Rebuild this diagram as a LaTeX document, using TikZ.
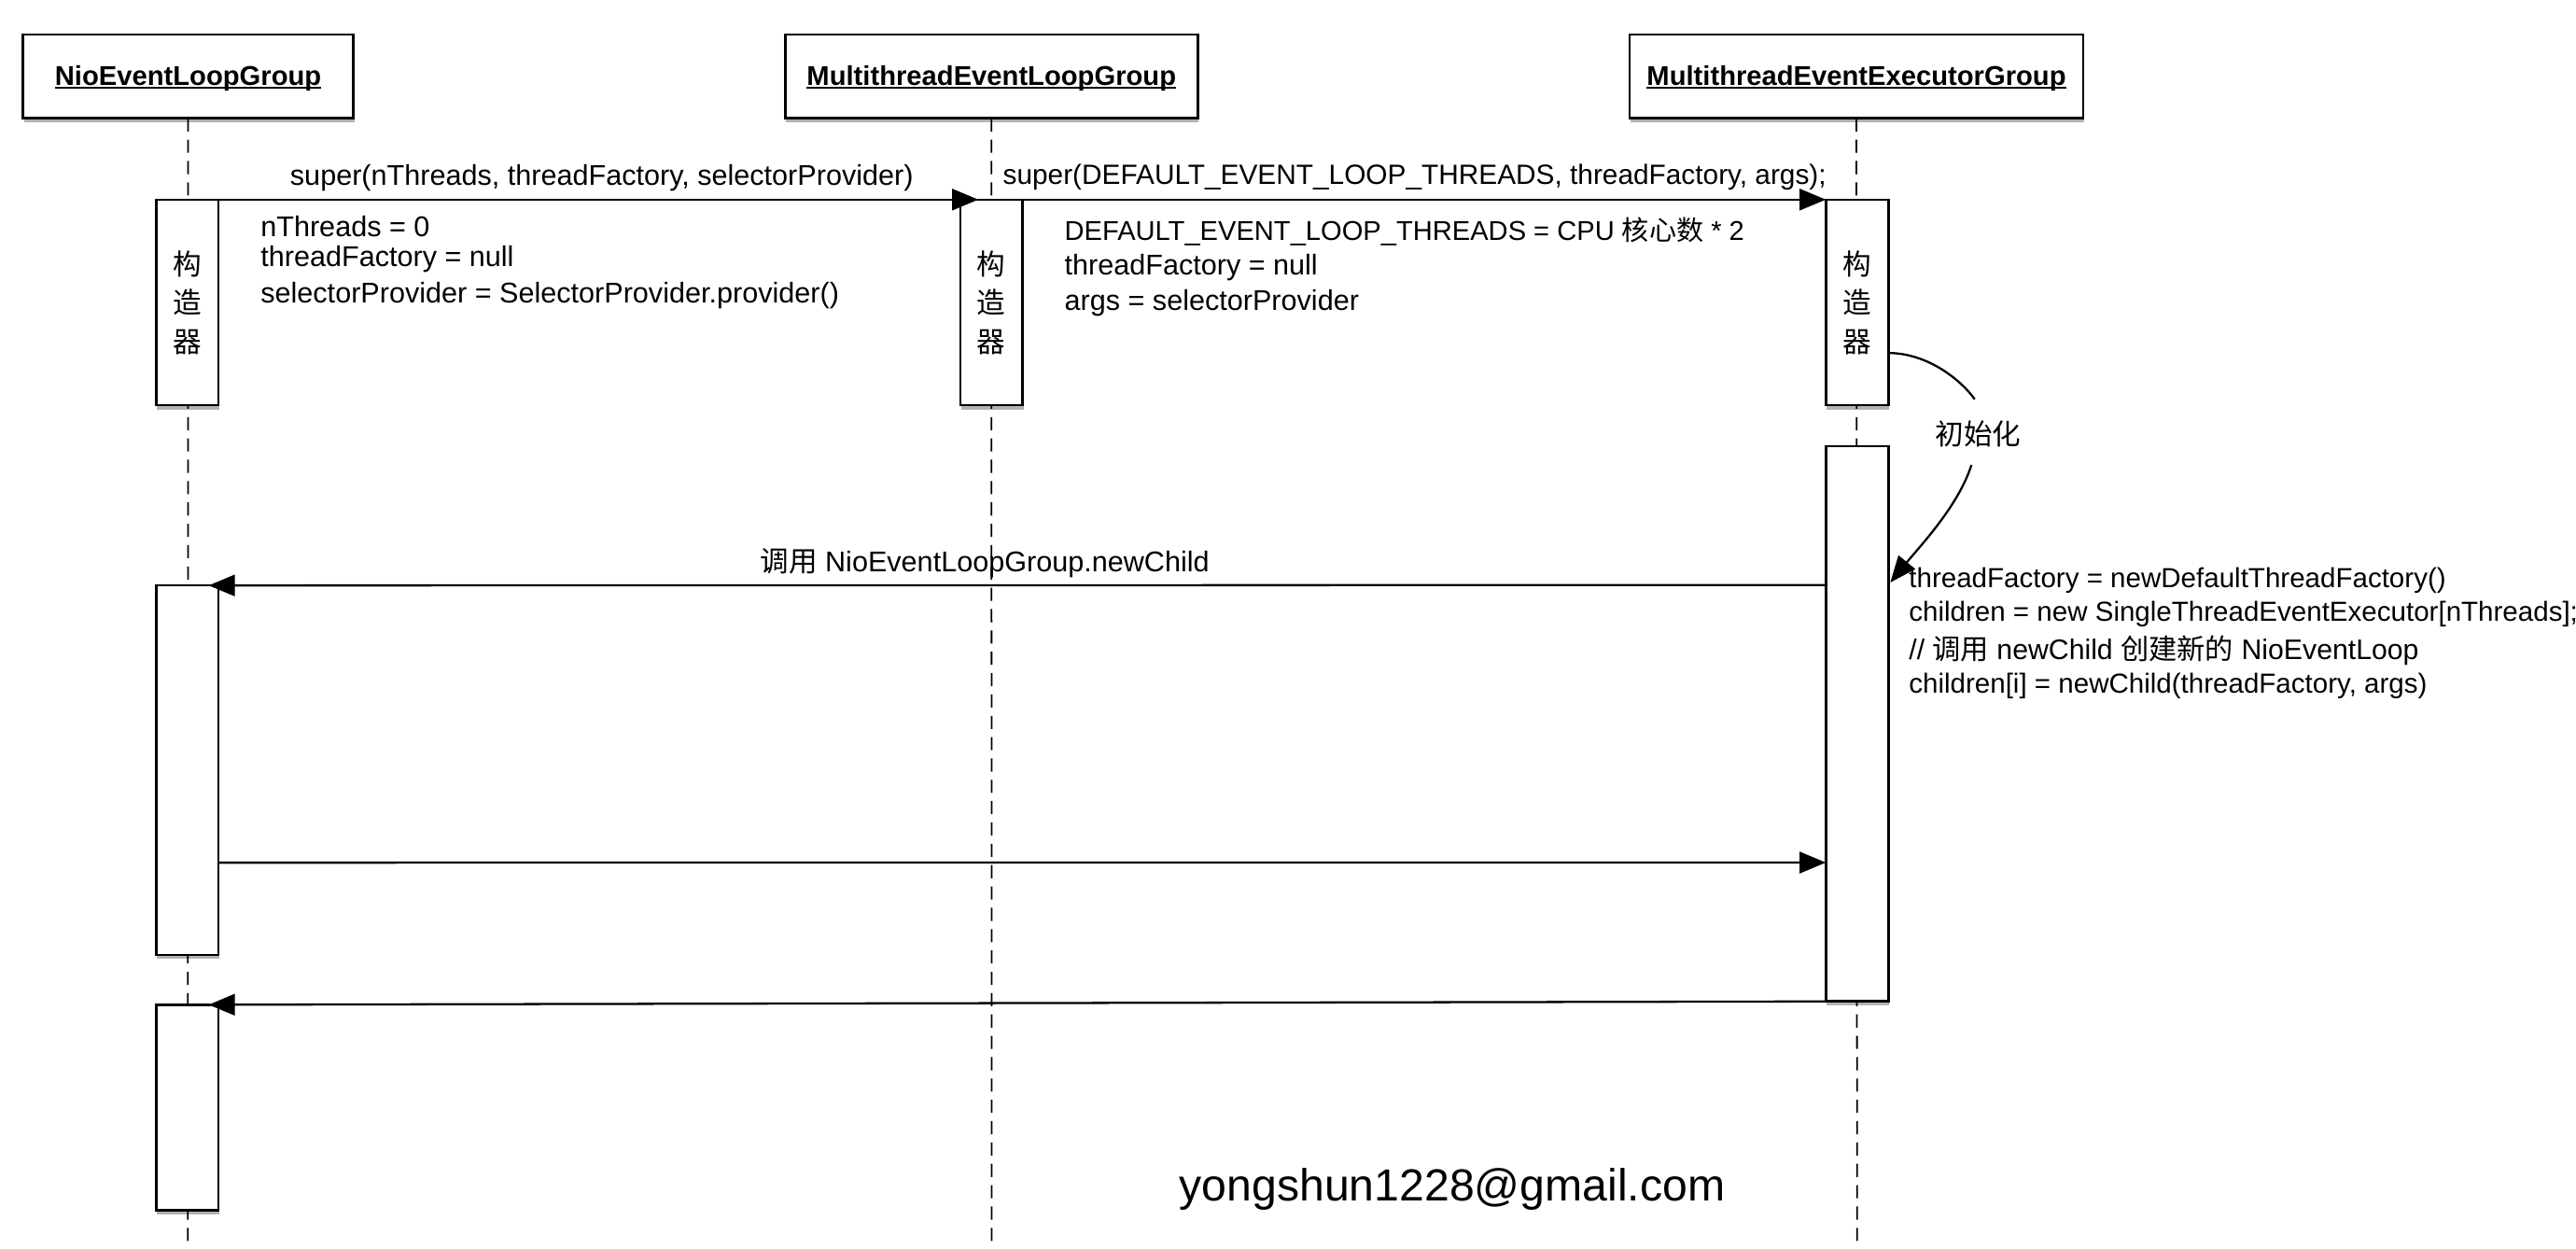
\documentclass[tikz,border=0pt]{standalone}
\usepackage{fontspec}
\setmainfont{Liberation Sans}
\newfontfamily\cjk{Noto Sans CJK SC}
\usetikzlibrary{arrows.meta,shadows,calc}
\newcommand\bodyfont{\fontsize{8.7}{10.4}\selectfont}
\newcommand\ulbox[1]{\setbox0=\hbox{#1}\rlap{\rule[-0.95pt]{\wd0}{0.5pt}}\box0}
\begin{document}
\begin{tikzpicture}[x=0.0176cm,y=-0.0176cm,
  every node/.style={inner sep=0pt,outer sep=0pt},
  shad/.style={drop shadow={shadow xshift=0.3pt,shadow yshift=-1.3pt,opacity=0.3,fill=black}},
  head/.style={draw=black,line width=0.75pt,fill=white,shad,minimum height=0.898cm,
    text height=6pt,text depth=0.5pt,
    font=\fontsize{8.3}{10}\selectfont\bfseries},
  act/.style={draw=black,line width=0.75pt,fill=white,shad,minimum width=0.669cm,
    align=center,font=\fontsize{8.7}{11.8}\selectfont\cjk},
  life/.style={line width=0.5pt,dash pattern=on 4pt off 2.5pt},
  msg/.style={line width=0.65pt,-{Triangle[length=8pt,width=6.5pt]}},
  txt/.style={font=\bodyfont,anchor=west},
  lbl/.style={font=\bodyfont},
]
\useasboundingbox (0,0) rectangle (1568,760);

% headers
\node[head,minimum width=3.538cm] (nio) at (114.5,46.5) {\ulbox{NioEventLoopGroup}};
\node[head,minimum width=4.418cm] (mel) at (603.5,46.5) {\ulbox{MultithreadEventLoopGroup}};
\node[head,minimum width=4.858cm] (mee) at (1130,46.5) {\ulbox{MultithreadEventExecutorGroup}};

% lifelines
\coordinate (nioEnd) at (114.3,757);
\coordinate (melEnd) at (603.6,757);
\coordinate (meeEnd) at (1130.4,757);
\draw[life] (nio.south) -- (nioEnd);
\draw[life] (mel.south) -- (melEnd);
\draw[life] (mee.south) -- (meeEnd);

% activation boxes
\node[act,minimum height=2.2cm] (nA1) at (114,184) {构\\造\\器};
\node[act,minimum height=2.2cm] (mA1) at (603.5,184) {构\\造\\器};
\node[act,minimum height=2.2cm] (eA1) at (1130.4,184) {构\\造\\器};
\node[act,minimum height=5.945cm] (eA2) at (1130.4,440.5) {};
\node[act,minimum height=3.955cm] (nA2) at (114,468.7) {};
\node[act,minimum height=2.2cm] (nA3) at (114,674) {};

% message 1
\draw[msg] (nA1.north east) -- ($(mA1.north west)+(11,0)$);
\node[lbl] (l1) at (366.3,108) {super(nThreads, threadFactory, selectorProvider)};
\node[txt] (n1a) at (158.7,137.8) {nThreads = 0};
\node[txt] (n1b) at (158.7,157.8) {threadFactory = null};
\node[txt] (n1c) at (158.7,180) {selectorProvider = SelectorProvider.provider()};

% message 2
\draw[msg] (mA1.north east) -- (eA1.north west);
\node[txt,font=\fontsize{8.48}{10.4}\selectfont] (l2) at (610.5,108) {super(DEFAULT\_EVENT\_LOOP\_THREADS, threadFactory, args);};
\node[txt,font=\fontsize{8.28}{10.4}\selectfont] (n2a) at (648,141) {DEFAULT\_EVENT\_LOOP\_THREADS = CPU {\cjk 核心数} * 2};
\node[txt] (n2b) at (648,163) {threadFactory = null};
\node[txt] (n2c) at (648,184.6) {args = selectorProvider};

% initialisation curve
\node[lbl] (init) at (1204,264) {\cjk 初始化};
\coordinate (c1s) at (1149.4,214.8);
\coordinate (c1e) at (1202,243);
\coordinate (c2s) at (1200,283);
\coordinate (c2e) at (1150.6,354.5);
\draw[line width=0.65pt] (c1s) .. controls (1175,215) and (1195,233) .. (c1e);
\draw[msg] (c2s) .. controls (1192,308) and (1168.6,332.5) .. (c2e);

% right text block
\begin{scope}[txt/.append style={font=\fontsize{8.4}{10.4}\selectfont}]
\node[txt] (r1) at (1162,353.2) {threadFactory = newDefaultThreadFactory()};
\node[txt] (r2) at (1162,374) {children = new SingleThreadEventExecutor[nThreads];};
\node[txt,font=\fontsize{8.6}{10.4}\selectfont] (r3) at (1162,395.8) {// {\cjk 调用} newChild {\cjk 创建新的} NioEventLoop};
\node[txt] (r4) at (1162,417.6) {children[i] = newChild(threadFactory, args)};
\end{scope}

% message 3
\draw[msg] ($(eA2.north west)+(0,84.5)$) -- ($(nA2.north east)+(-6,0)$);
\node[lbl] (l3) at (599.4,342.5) {{\cjk 调用} NioEventLoopGroup.newChild};

% message 4
\draw[msg] ($(nA2.north east)+(0,168.7)$) -- ($(eA2.north west)+(0,253.4)$);

% message 5
\draw[msg] (eA2.south west) -- ($(nA3.north east)+(-6,0)$);

% signature
\node[font=\fontsize{13.7}{16}\selectfont] (mail) at (884,724) {yongshun1228@gmail.com};
\end{tikzpicture}
\end{document}
